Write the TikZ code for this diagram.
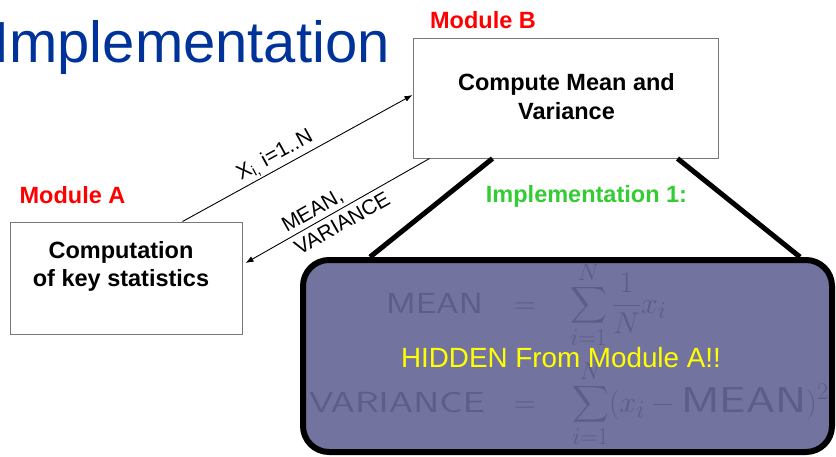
\documentclass[tikz,border=0pt]{standalone}
\usepackage{fix-cm}
\usepackage[no-math]{fontspec}
\setmainfont{Liberation Sans}
\DeclareFontFamily{OMX}{cmex}{}
\DeclareFontShape{OMX}{cmex}{m}{n}{<->s*[0.85]cmex10}{}
\DeclareMathSizes{30}{30}{24}{18}
\usetikzlibrary{arrows.meta}
\definecolor{titleblue}{RGB}{0,51,153}
\definecolor{modred}{RGB}{255,0,0}
\definecolor{impgreen}{RGB}{51,204,51}
\definecolor{hidefill}{RGB}{115,115,160}
\definecolor{formcol}{RGB}{93,93,138}
\definecolor{hideyellow}{RGB}{255,255,0}
\definecolor{boxgray}{RGB}{120,120,120}
\newcommand{\wideword}[3]{\mbox{\scalebox{#1}[1]{\fontsize{#2}{#2}\selectfont\sffamily #3}}}
\tikzset{
  box/.style={draw=boxgray, line width=1pt, rectangle, inner sep=0pt},
  boxtext/.style={font=\fontsize{23.5}{28.5}\selectfont\bfseries, align=center, inner sep=0pt},
  modlabel/.style={font=\fontsize{23.5}{28}\selectfont\bfseries, text=modred, inner sep=0pt},
  arr/.style={draw=black, line width=0.9pt, -{Latex[length=8pt,width=6pt]}},
  thick line/.style={line width=5pt},
  flabel/.style={font=\fontsize{21}{26}\selectfont, inner sep=2pt},
  formula/.style={font=\fontsize{30}{34}\selectfont, text=formcol, inner sep=0pt},
}
\begin{document}
\begin{tikzpicture}[x=1pt,y=-1pt]
\useasboundingbox (0,0) rectangle (836,456);
% title
\node[anchor=base west, inner sep=0pt, text=titleblue, font=\fontsize{58}{60}\selectfont] (title) at (-7,62) {Implementation};
% module B
\node[modlabel, anchor=base] (labB) at (483,28) {Module B};
\node[box, minimum width=305pt, minimum height=120pt] (B) at (565.5,98) {};
\node[boxtext, anchor=base] (Btext) at (566.5,119) {Compute Mean and\\Variance};
% module A
\node[modlabel, anchor=base] (labA) at (72.5,203) {Module A};
\node[box, minimum width=232pt, minimum height=112pt] (A) at (126,278) {};
\node[boxtext, anchor=base] (Atext) at (121,286.5) {Computation\\of key statistics};
% hidden implementation box
\node[draw=black, line width=6pt, fill=hidefill, rounded corners=26pt, minimum width=529pt, minimum height=192pt, inner sep=0pt] (H) at (567.5,356) {};
% thick connectors
\draw[thick line] ([xshift=80pt]B.south west) -- ([xshift=70pt]H.north west);
\draw[thick line] ([xshift=265pt]B.south west) -- ([xshift=-35pt]H.north east);
\node[font=\fontsize{23.5}{28}\selectfont\bfseries, text=impgreen, anchor=base, inner sep=0pt] (impl) at (586.5,202) {Implementation 1:};
% arrows
\draw[arr] ([xshift=173pt]A.north west) -- node[flabel, pos=0.43, sloped, above] (xlab) {X\textsubscript{i,} i=1..N} ([yshift=3pt]B.west);
\draw[arr] ([xshift=17pt]B.south west) -- node[flabel, pos=0.51, sloped, align=left, inner sep=0pt] (mvlab) {MEAN,\\VARIANCE} ([xshift=3pt,yshift=15pt]A.east);
% formulas
\node[formula, anchor=base east] (f1l) at (483,313) {\wideword{1.25}{29}{MEAN}};
\node[formula, anchor=base] (f1e) at (525,313) {$=$};
\node[formula, anchor=base west] (f1r) at (570,313) {$\displaystyle\sum_{i=1}^{N}\frac{1}{N}x_i$};
\node[formula, anchor=base east] (f2l) at (485,412) {\wideword{1.35}{29}{VARIANCE}};
\node[formula, anchor=base] (f2e) at (525,412) {$=$};
\node[formula, anchor=base west] (f2r) at (572,412) {$\displaystyle\sum_{i=1}^{N}(x_i-\wideword{1.3}{36}{MEAN})^2$};
% hidden text
\node[font=\fontsize{27.8}{32}\selectfont, text=hideyellow, anchor=base, inner sep=0pt] (hid) at (561,367) {HIDDEN From Module A!!};
\end{tikzpicture}
\end{document}
